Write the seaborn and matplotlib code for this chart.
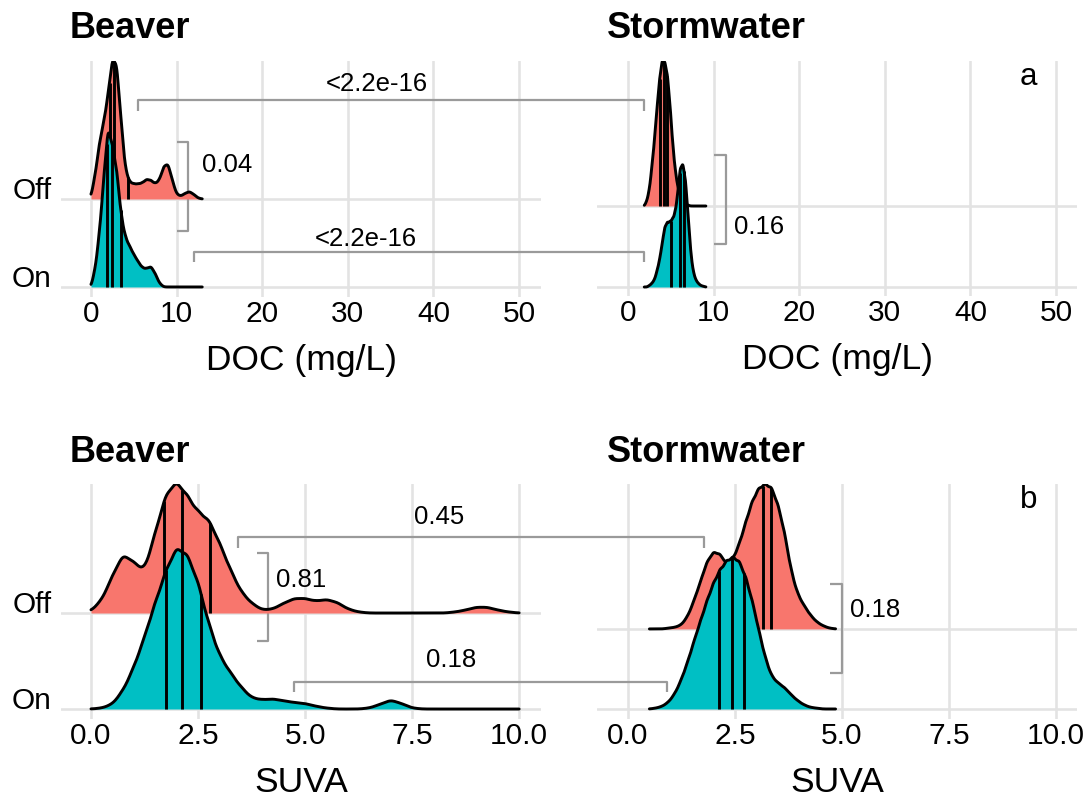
import numpy as np
import seaborn as sns
import matplotlib.pyplot as plt
import matplotlib.transforms as mtransforms
from matplotlib.lines import Line2D

doc_beaver_bins = np.arange(0, 13.01, 0.5)
doc_beaver_off = [0.02, 0.26, 0.6, 0.82, 1.1, 1.5, 1.45, 0.85, 0.32, 0.18, 0.16, 0.16, 0.17, 0.21,
                  0.2, 0.16, 0.2, 0.35, 0.38, 0.2, 0.05, 0.03, 0.06, 0.08, 0.05, 0.01, 0.0]
doc_beaver_on = [0.0, 0.2, 0.6, 1.2, 1.78, 1.55, 1.3, 0.8, 0.55, 0.45, 0.36, 0.28, 0.21, 0.2,
                 0.23, 0.15, 0.04, 0, 0, 0, 0, 0, 0, 0, 0, 0, 0]

doc_storm_bins = np.arange(1.9, 9.11, 0.3)
doc_storm_off = [0.0, 0.06, 0.2, 0.48, 0.8, 1.2, 1.55, 1.78, 1.75, 1.6, 1.25, 0.78, 0.45, 0.24,
                 0.12, 0.06, 0.03, 0.01, 0, 0, 0, 0, 0, 0, 0]
doc_storm_on = [0, 0, 0.02, 0.05, 0.1, 0.22, 0.37, 0.6, 0.82, 0.88, 0.88, 0.92, 1.0, 1.25, 1.62,
                1.68, 1.48, 1.0, 0.5, 0.22, 0.1, 0.05, 0.02, 0.01, 0]

suva_beaver_bins = np.arange(0, 10.01, 0.25)
suva_beaver_off = [0.02, 0.13, 0.38, 0.61, 0.52, 0.42, 0.82, 1.22, 1.35, 1.2, 1.03, 0.96, 0.72, 0.45,
                   0.22, 0.1, 0.03, 0.04, 0.1, 0.15, 0.15, 0.12, 0.14, 0.11, 0.04, 0.01, 0, 0,
                   0, 0, 0, 0, 0, 0, 0.01, 0.03, 0.06, 0.06, 0.03, 0.01, 0]
suva_beaver_on = [0, 0.01, 0.05, 0.2, 0.45, 0.78, 1.15, 1.5, 1.76, 1.68, 1.38, 0.92, 0.58, 0.4,
                  0.24, 0.12, 0.1, 0.11, 0.09, 0.07, 0.06, 0.03, 0.01, 0, 0, 0, 0.01, 0.05,
                  0.1, 0.06, 0.01, 0, 0, 0, 0, 0, 0, 0, 0, 0, 0]

suva_storm_bins = np.arange(0.5, 4.86, 0.15)
suva_storm_off = [0, 0, 0, 0.01, 0.02, 0.05, 0.16, 0.36, 0.6, 0.84, 0.96, 0.93, 0.8, 0.86, 1.05,
                  1.32, 1.58, 1.74, 1.8, 1.76, 1.55, 1.22, 0.75, 0.45, 0.3, 0.18, 0.09, 0.04, 0.01, 0]
suva_storm_on = [0, 0.01, 0.03, 0.08, 0.18, 0.34, 0.55, 0.79, 1.02, 1.25, 1.45, 1.6, 1.7, 1.75, 1.7,
                 1.52, 1.25, 0.92, 0.6, 0.38, 0.3, 0.25, 0.17, 0.1, 0.05, 0.02, 0.01, 0, 0, 0]

# quartiles (25/50/75 %)
doc_beaver_q = {"Off": [2.17, 2.67, 4.34], "On": [1.84, 2.5, 3.5]}
doc_storm_q = {"Off": [3.7, 4.15, 4.6], "On": [4.99, 6.05, 6.54]}
suva_beaver_q = {"Off": [1.71, 2.13, 2.78], "On": [1.76, 2.13, 2.57]}
suva_storm_q = {"Off": [2.27, 3.15, 3.34], "On": [2.13, 2.43, 2.71]}

COLORS = {"Off": "#F8766D", "On": "#00BFC4"}
BASE = {"Off": 2, "On": 1}
LW = 2.1

sns.set_theme(style="white")
plt.rcParams["font.family"] = ["Liberation Sans", "DejaVu Sans"]
plt.rcParams.update({"text.color": "black", "axes.labelcolor": "black",
                     "xtick.color": "black", "ytick.color": "black"})

W, H = 1089, 809
fig = plt.figure(figsize=(W / 100, H / 100), dpi=100)


def add_panel(left, top, right, bottom):
    return fig.add_axes([left / W, 1 - bottom / H, (right - left) / W, (bottom - top) / H])


def ridges(ax, bins, off_w, on_w, quart, xlim, ylim, xticks, xlabels, xtitle, ylabels=True):
    step = bins[1] - bins[0]
    lines = {}
    for name, w in (("Off", off_w), ("On", on_w)):
        sd = np.sqrt(np.cov(bins, aweights=w))
        sns.kdeplot(x=bins, weights=w, bw_method=0.55 * step / sd, cut=0, gridsize=600,
                    ax=ax, color="black", linewidth=LW)
        lines[name] = ax.lines[-1]
    # common scale so the tallest ridge touches the top of the panel
    s = min((ylim[1] - BASE[n]) / lines[n].get_ydata().max() for n in lines)

    z = 2
    for name, w in (("Off", off_w), ("On", on_w)):
        sd = np.sqrt(np.cov(bins, aweights=w))
        sns.kdeplot(x=bins, weights=w, bw_method=0.55 * step / sd, cut=0, gridsize=600,
                    ax=ax, fill=True, color=COLORS[name], alpha=1, linewidth=0)
        poly = ax.collections[-1]
        tr = mtransforms.Affine2D().scale(1, s).translate(0, BASE[name]) + ax.transData
        poly.set_transform(tr)
        poly.set_zorder(z)
        ln = lines[name]
        ln.set_transform(tr)
        ln.set_zorder(z + 1)
        xs, ys = ln.get_xdata(), ln.get_ydata()
        q = quart[name]
        ax.vlines(q, BASE[name], BASE[name] + s * np.interp(q, xs, ys),
                  colors="black", linewidth=LW, zorder=z + 1)
        z += 2

    ax.set_xlim(*xlim)
    ax.set_ylim(*ylim)
    ax.set_xticks(xticks)
    ax.set_xticklabels(xlabels)
    ax.set_yticks([1, 2])
    if ylabels:
        ax.set_yticklabels(["On", "Off"])
        for lbl in ax.get_yticklabels():
            lbl.set_verticalalignment("baseline")
    else:
        ax.set_yticklabels([])
    ax.set_xlabel(xtitle, fontsize=25.5, labelpad=11)
    ax.set_ylabel("")
    ax.grid(True, color="#E3E3E3", linewidth=1.9)
    ax.set_axisbelow(True)
    ax.tick_params(axis="x", length=0, pad=2.5, labelsize=21.5)
    ax.tick_params(axis="y", length=0, pad=6.5, labelsize=21.5)
    for sp in ax.spines.values():
        sp.set_visible(False)
    ax.patch.set_alpha(0)


ax_a1 = add_panel(61, 61, 541, 297)
ax_a2 = add_panel(597, 61, 1077, 296)
ax_b1 = add_panel(61, 484, 541, 719)
ax_b2 = add_panel(597, 484, 1077, 719)

doc_ticks = [0, 10, 20, 30, 40, 50]
doc_labels = ["0", "10", "20", "30", "40", "50"]
suva_ticks = [0, 2.5, 5, 7.5, 10]
suva_labels = ["0.0", "2.5", "5.0", "7.5", "10.0"]

ridges(ax_a1, doc_beaver_bins, doc_beaver_off, doc_beaver_on, doc_beaver_q,
       (-3.5, 52.57), (0.886, 3.568), doc_ticks, doc_labels, "DOC (mg/L)")
ridges(ax_a2, doc_storm_bins, doc_storm_off, doc_storm_on, doc_storm_q,
       (-3.62, 52.45), (0.889, 3.79), doc_ticks, doc_labels, "DOC (mg/L)", ylabels=False)
ridges(ax_b1, suva_beaver_bins, suva_beaver_off, suva_beaver_on, suva_beaver_q,
       (-0.70, 10.51), (0.896, 3.344), suva_ticks, suva_labels, "SUVA")
ridges(ax_b2, suva_storm_bins, suva_storm_off, suva_storm_on, suva_storm_q,
       (-0.724, 10.49), (0.875, 3.81), suva_ticks, suva_labels, "SUVA", ylabels=False)

# --- panel titles ---
for x, y, t in [(70, 38, "Beaver"), (607, 38, "Stormwater"), (70, 462, "Beaver"), (607, 462, "Stormwater")]:
    fig.text(x / W, 1 - y / H, t, fontsize=26, fontweight="bold", va="baseline", ha="left")

ax_a2.text(46.8, 3.59, "a", fontsize=22.5, ha="center", va="center")
ax_b2.text(9.37, 3.61, "b", fontsize=22.5, ha="center", va="center")

# --- significance brackets ---
GREY = "#9A9A9A"
to_fig = fig.transFigure.inverted()


def fig_line(px, py):
    pts = to_fig.transform(np.column_stack([px, py]))
    fig.add_artist(Line2D(pts[:, 0], pts[:, 1], color=GREY, linewidth=1.6,
                          transform=fig.transFigure, solid_capstyle="butt"))


def across(axl, xl, axr, xr, y, drop, label, lx, ly):
    yy = axl.transData.transform([(0, y), (0, y - drop)])[:, 1]
    pl = axl.transData.transform((xl, 0))[0]
    pr = axr.transData.transform((xr, 0))[0]
    fig_line([pl, pl, pr, pr], [yy[1], yy[0], yy[0], yy[1]])
    axl.text(lx, ly, label, fontsize=18.5, ha="center", va="center", clip_on=False)


def within(ax, x, x_in, y0, y1, label, lx, ly):
    ax.plot([x_in, x, x, x_in], [y0, y0, y1, y1], color=GREY, linewidth=1.6,
            solid_capstyle="butt", clip_on=False, zorder=1)
    ax.text(lx, ly, label, fontsize=18.5, ha="center", va="center")


across(ax_a1, 5.5, ax_a2, 1.92, 3.125, 0.125, "<2.2e-16", 33.4, 3.31)
across(ax_a1, 12.0, ax_a2, 1.92, 1.40, 0.114, "<2.2e-16", 32.1, 1.545)
within(ax_a1, 11.36, 10.0, 2.648, 1.636, "0.04", 15.9, 2.386)
within(ax_a2, 11.45, 10.1, 2.63, 1.53, "0.16", 15.3, 1.74)

across(ax_b1, 3.43, ax_b2, 1.77, 2.79, 0.115, "0.45", 8.13, 3.0)
across(ax_b1, 4.75, ax_b2, 0.92, 1.281, 0.104, "0.18", 8.41, 1.51)
within(ax_b1, 4.14, 3.87, 2.625, 1.708, "0.81", 4.91, 2.344)
within(ax_b2, 5.0, 4.73, 2.5625, 1.45, "0.18", 5.78, 2.24)

fig.savefig("out.png", dpi=100, facecolor="white")
